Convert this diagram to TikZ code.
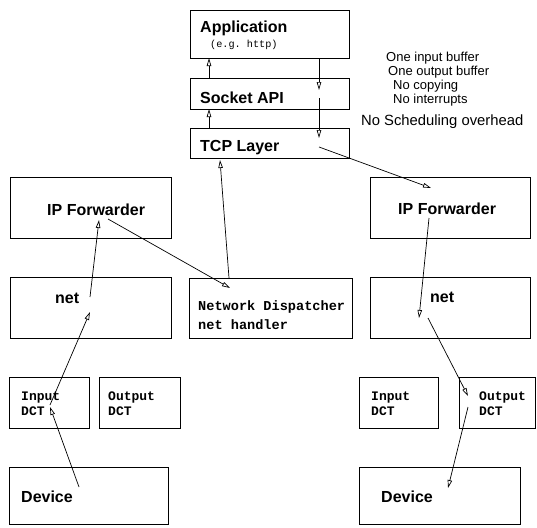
\documentclass[tikz,border=0pt]{standalone}
\usepackage{fontspec}
\setmainfont{Liberation Sans}
\setmonofont{Liberation Mono}
\usetikzlibrary{arrows.meta,calc}
\begin{document}
\begin{tikzpicture}[x=1pt,y=-1pt,
  box/.style={draw=black, line width=0.8pt, inner sep=0pt, outer sep=0pt, anchor=north west},
  lbl/.style={anchor=base west, inner sep=0pt, font=\fontsize{16}{18}\selectfont\bfseries},
  mlbl/.style={anchor=base west, inner sep=0pt, font=\fontsize{13}{15}\selectfont\ttfamily\bfseries},
  note/.style={anchor=base west, inner sep=0pt, font=\fontsize{13}{15}\selectfont},
  arr/.style={line width=0.7pt, -{Triangle[open, length=8pt, width=4.5pt, line width=0.7pt]}}
]
\useasboundingbox (0,0) rectangle (537,527);

% boxes
\node[box, minimum width=159pt, minimum height=48pt] (app) at (190,10) {};
\node[box, minimum width=159pt, minimum height=31pt] (sock) at (190,78) {};
\node[box, minimum width=159pt, minimum height=30pt] (tcp) at (190,128) {};
\node[box, minimum width=161pt, minimum height=61pt] (ipL) at (10,177) {};
\node[box, minimum width=161pt, minimum height=61pt] (netL) at (10,277) {};
\node[box, minimum width=163pt, minimum height=60pt] (nd) at (189,278) {};
\node[box, minimum width=160pt, minimum height=61pt] (ipR) at (370,177) {};
\node[box, minimum width=160pt, minimum height=61pt] (netR) at (370,277) {};
\node[box, minimum width=80pt, minimum height=51pt] (inL) at (9,377) {};
\node[box, minimum width=81pt, minimum height=51pt] (outL) at (99,377) {};
\node[box, minimum width=79pt, minimum height=51pt] (inR) at (359,377) {};
\node[box, minimum width=76pt, minimum height=51pt] (outR) at (459,377) {};
\node[box, minimum width=159pt, minimum height=57pt] (devL) at (9,467) {};
\node[box, minimum width=161pt, minimum height=57pt] (devR) at (359,467) {};

% labels
\node[lbl] (tApp) at (200,33) {Application};
\node[anchor=base west, inner sep=0pt, font=\fontsize{10.2}{12}\selectfont\ttfamily] (tEg) at (210,47.5) {(e.g. http)};
\node[lbl] (tSock) at (200,103) {Socket API};
\node[lbl] (tTcp) at (200,151.5) {TCP Layer};
\node[lbl] (tIpL) at (47,215) {IP Forwarder};
\node[lbl] (tNetL) at (55,303) {net};
\node[lbl] (tIpR) at (398,214.5) {IP Forwarder};
\node[lbl] (tNetR) at (430,302.5) {net};
\node[lbl] (tDevL) at (21,502) {Device};
\node[lbl] (tDevR) at (381,502) {Device};
\node[mlbl, font=\fontsize{13.6}{15}\selectfont\ttfamily\bfseries] (tNd1) at (198,310) {Network Dispatcher};
\node[mlbl, font=\fontsize{13.6}{15}\selectfont\ttfamily\bfseries] (tNd2) at (198,329) {net handler};
\node[mlbl] (tInL1) at (21,400) {Input};
\node[mlbl] (tInL2) at (21,415) {DCT};
\node[mlbl] (tOutL1) at (108,400) {Output};
\node[mlbl] (tOutL2) at (108,415) {DCT};
\node[mlbl] (tInR1) at (371,400) {Input};
\node[mlbl] (tInR2) at (371,415) {DCT};
\node[mlbl] (tOutR1) at (479,400) {Output};
\node[mlbl] (tOutR2) at (479,415) {DCT};

% notes
\node[note] (n1) at (386,61) {One input buffer};
\node[note] (n2) at (388,75) {One output buffer};
\node[note] (n3) at (393,89) {No copying};
\node[note] (n4) at (393,103) {No interrupts};
\node[note, font=\fontsize{14.8}{17}\selectfont] (n5) at (361,125.5) {No Scheduling overhead};

% connectors
\draw[arr] ($(sock.north west)+(19,0)$) -- ($(app.south west)+(19,0)$);
\draw[arr] ($(tcp.north west)+(19,0)$) -- ($(sock.south west)+(19,0)$);
\draw[arr] ($(app.south west)+(129,0)$) -- ($(sock.north west)+(129,12)$);
\draw[arr] ($(sock.north west)+(129,20)$) -- ($(tcp.north west)+(129,10)$);
\draw[arr] ($(tcp.north west)+(129,19)$) -- ($(ipR.north west)+(61,11)$);
\draw[arr] ($(nd.north west)+(40,0)$) -- ($(tcp.north west)+(30,32)$);
\draw[arr] ($(ipL.north west)+(98,42)$) -- ($(nd.north west)+(41,10)$);
\draw[arr] ($(netL.north west)+(80,20)$) -- ($(ipL.north west)+(89,43)$);
\draw[arr] ($(inL.north west)+(41,28)$) -- ($(netL.north west)+(80,35)$);
\draw[arr] ($(devL.north west)+(70,20)$) -- ($(inL.north west)+(41,30)$);
\draw[arr] ($(ipR.north west)+(59,41)$) -- ($(netR.north west)+(49,41)$);
\draw[arr] ($(netR.north west)+(58,41)$) -- ($(outR.north west)+(9,19)$);
\draw[arr] ($(outR.north west)+(9,30)$) -- ($(devR.north west)+(89,21)$);
\end{tikzpicture}
\end{document}
